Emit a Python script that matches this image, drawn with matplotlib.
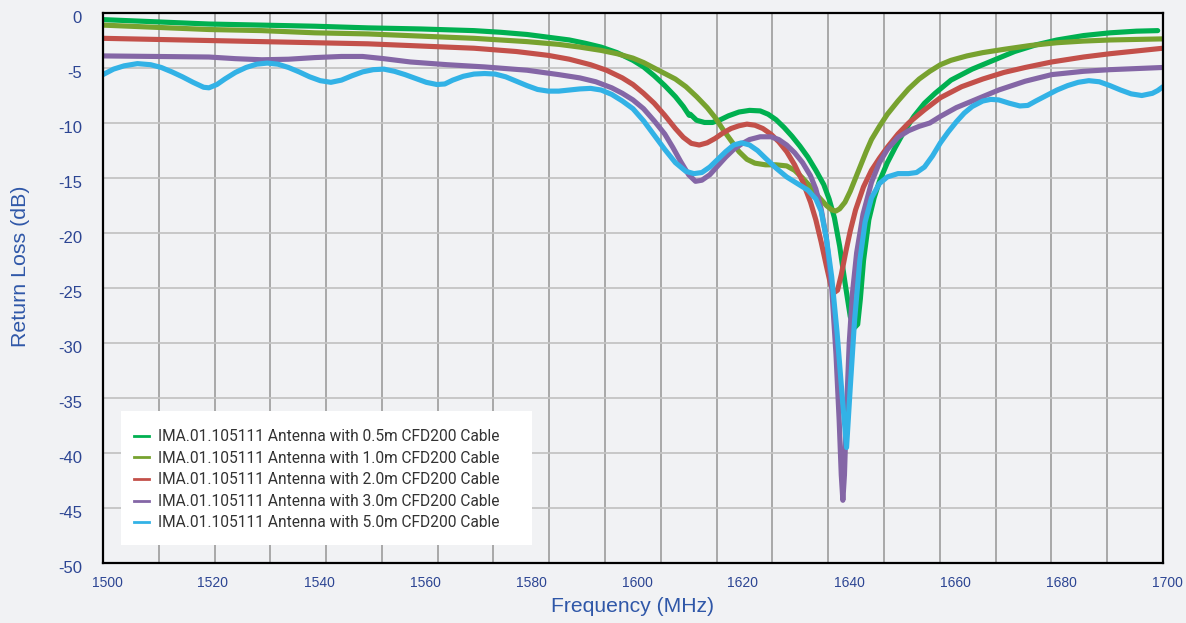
import matplotlib
matplotlib.use("Agg")
import matplotlib.pyplot as plt
import numpy as np
from matplotlib.lines import Line2D
from matplotlib.patches import Rectangle
from matplotlib.transforms import ScaledTranslation

plt.rcParams["axes.unicode_minus"] = False

# 0.5m cable
freq_05 = [1500, 1510, 1520, 1530, 1540, 1550, 1560, 1570, 1575, 1580, 1584, 1588, 1591, 1594,
           1597, 1600, 1602, 1604, 1606, 1608, 1609.5, 1610.6, 1610.8, 1612, 1613.5, 1615, 1616.5,
           1618, 1620, 1622, 1624, 1625.5, 1627, 1628.5, 1630, 1631.5, 1633, 1634.5, 1636, 1637,
           1638, 1639, 1640, 1641, 1641.8, 1642.4, 1642.9, 1643.5, 1644.5, 1645.5, 1646.5, 1648,
           1649.5, 1651, 1653, 1655, 1657, 1660, 1664, 1668, 1672, 1676, 1680, 1685, 1690, 1695, 1699]
rl_05 = [-0.6, -0.8, -1.0, -1.1, -1.2, -1.35, -1.45, -1.6, -1.75, -1.95, -2.2, -2.45, -2.75, -3.1,
         -3.6, -4.3, -4.9, -5.7, -6.6, -7.6, -8.5, -9.3, -9.2, -9.75, -9.95, -9.95, -9.7,
         -9.35, -9.0, -8.85, -8.9, -9.2, -9.7, -10.4, -11.2, -12.1, -13.1, -14.3, -15.6, -16.9,
         -18.6, -21.2, -24.5, -27.6, -28.6, -28.3, -26.0, -22.5, -18.8, -16.8, -15.3, -13.6,
         -12.2, -10.9, -9.4, -8.2, -7.3, -6.1, -5.1, -4.3, -3.5, -2.9, -2.45, -2.05, -1.8, -1.65, -1.6]

# 1.0m cable
freq_10 = [1500, 1510, 1520, 1530, 1540, 1550, 1560, 1570, 1580, 1586, 1590, 1594, 1597, 1600,
           1602, 1604, 1606, 1608, 1610, 1612, 1614, 1615.5, 1617, 1618.5, 1620, 1621.5, 1623, 1625,
           1627, 1629, 1630.5, 1632, 1633.5, 1635, 1636.5, 1637.5, 1638.3, 1639, 1640, 1641, 1642,
           1643, 1644, 1645, 1646.5, 1648, 1650, 1652, 1654, 1656, 1658, 1660, 1663, 1666, 1670,
           1675, 1680, 1685, 1690, 1695, 1700]
rl_10 = [-1.1, -1.3, -1.5, -1.6, -1.8, -1.9, -2.1, -2.3, -2.6, -2.85, -3.1, -3.4, -3.7, -4.1,
         -4.5, -5.0, -5.5, -6.0, -6.7, -7.6, -8.6, -9.5, -10.6, -11.6, -12.6, -13.3, -13.65, -13.8,
         -13.8, -13.9, -14.3, -15.0, -15.8, -16.7, -17.5, -17.9, -18.0, -17.8, -17.2, -16.2, -15.0,
         -13.8, -12.6, -11.5, -10.3, -9.2, -8.0, -6.9, -6.0, -5.3, -4.7, -4.3, -3.9, -3.6, -3.3,
         -2.95, -2.7, -2.55, -2.45, -2.4, -2.35]

# 2.0m cable
freq_20 = [1500, 1510, 1520, 1530, 1540, 1550, 1560, 1570, 1578, 1584, 1588, 1592, 1595, 1598,
           1600, 1602, 1604, 1606, 1608, 1609.5, 1611, 1612.5, 1614, 1615.5, 1617, 1618.5, 1620,
           1621.5, 1623, 1624.5, 1626, 1627.5, 1629, 1630.5, 1632, 1633.5, 1634.5, 1635.5, 1636.5,
           1637.3, 1638, 1638.6, 1639.3, 1640.2, 1641, 1642, 1643.5, 1645, 1646.5, 1648, 1650, 1652,
           1655, 1658, 1662, 1666, 1670, 1674, 1679, 1685, 1690, 1695, 1700]
rl_20 = [-2.3, -2.4, -2.5, -2.6, -2.7, -2.8, -3.0, -3.2, -3.5, -3.85, -4.2, -4.7, -5.2, -5.9,
         -6.5, -7.3, -8.2, -9.3, -10.5, -11.3, -11.85, -12.0, -11.8, -11.4, -10.9, -10.5, -10.25,
         -10.1, -10.2, -10.5, -11.0, -11.7, -12.6, -13.8, -15.3, -17.2, -18.8, -20.8, -23.0,
         -24.7, -25.4, -25.2, -23.8, -21.6, -19.8, -17.9, -15.8, -14.3, -13.2, -12.2, -11.0, -10.0,
         -8.8, -7.7, -6.7, -6.0, -5.4, -4.95, -4.45, -4.0, -3.7, -3.45, -3.2]

# 3.0m cable
freq_30 = [1500, 1510, 1520, 1525, 1530, 1535, 1540, 1545, 1549, 1553, 1558, 1565, 1572, 1580,
           1586, 1590, 1593, 1596, 1598, 1600, 1602, 1604, 1606, 1607.5, 1609, 1610.5, 1611.8, 1613,
           1614.5, 1616, 1617.5, 1619, 1620.5, 1622, 1624, 1626, 1627.5, 1629, 1630.5, 1632, 1633.5,
           1634.5, 1635.5, 1636.5, 1637.5, 1638.3, 1638.9, 1639.3, 1639.6, 1639.9, 1640.3, 1640.8,
           1641.4, 1642.2, 1643.4, 1645, 1646.5, 1648, 1650, 1652, 1654, 1656, 1658, 1661, 1665,
           1669, 1674, 1679, 1685, 1690, 1695, 1700]
rl_30 = [-3.9, -3.95, -4.0, -4.15, -4.25, -4.2, -4.05, -3.95, -3.95, -4.15, -4.45, -4.7, -4.9, -5.2,
         -5.6, -5.9, -6.25, -6.8, -7.3, -7.9, -8.7, -9.8, -11.0, -12.2, -13.5, -14.7, -15.3, -15.2,
         -14.7, -13.9, -13.1, -12.4, -11.9, -11.5, -11.25, -11.25, -11.5, -12.0, -12.7, -13.6, -14.8,
         -16.0, -17.8, -20.5, -25.0, -31.0, -37.0, -42.0, -44.3, -42.0, -36.0, -30.0,
         -25.5, -21.8, -18.3, -15.4, -13.6, -12.4, -11.3, -10.7, -10.3, -10.0, -9.4, -8.6, -7.8,
         -7.0, -6.2, -5.6, -5.3, -5.15, -5.05, -4.95]

# 5.0m cable
freq_50 = [1500, 1502, 1504, 1506.5, 1509, 1511, 1513, 1515, 1517, 1519, 1520, 1521.5, 1523, 1525,
           1527, 1529, 1531, 1533, 1535, 1537, 1539, 1541, 1543, 1545, 1547, 1549, 1551, 1553, 1555,
           1557, 1559, 1561, 1563, 1564.5, 1566, 1568, 1570, 1572, 1574, 1576, 1578, 1580, 1582,
           1584, 1586, 1588, 1590, 1592, 1594, 1596, 1598, 1600, 1602, 1604, 1606, 1608, 1610,
           1611.5, 1613, 1614.5, 1616, 1617.5, 1619, 1620.5, 1622, 1623.5, 1625, 1627, 1629, 1631,
           1633, 1634.5, 1635.5, 1636.5, 1637.5, 1638.5, 1639.5, 1640.3, 1641, 1641.8, 1642.8,
           1643.8, 1645, 1646.5, 1648, 1650, 1652, 1653.5, 1655, 1656.5, 1658, 1659.5, 1661, 1662.5,
           1664, 1666, 1667.5, 1669, 1671, 1673, 1674.5, 1676, 1678, 1680, 1682, 1684, 1686, 1688,
           1690, 1692, 1694, 1696, 1698, 1699, 1700]
rl_50 = [-5.6, -5.1, -4.8, -4.6, -4.7, -4.95, -5.35, -5.8, -6.3, -6.75, -6.8, -6.5, -6.0, -5.4,
         -4.95, -4.65, -4.55, -4.65, -4.95, -5.35, -5.8, -6.15, -6.3, -6.1, -5.7, -5.35, -5.15, -5.1,
         -5.3, -5.6, -5.95, -6.3, -6.5, -6.45, -6.1, -5.75, -5.55, -5.5, -5.55, -5.8, -6.2, -6.6,
         -6.95, -7.1, -7.1, -7.0, -6.9, -6.85, -7.0, -7.4, -8.0, -8.7, -9.8, -11.1, -12.4, -13.6,
         -14.4, -14.6, -14.5, -14.0, -13.3, -12.6, -12.0, -11.8, -12.0, -12.5, -13.2, -14.1, -14.9,
         -15.5, -16.1, -16.9, -18.0, -20.5, -24.0, -29.0, -35.0, -39.5, -34.0, -28.0, -22.5,
         -19.0, -16.8, -15.5, -14.9, -14.6, -14.6, -14.5, -14.0, -13.0, -11.8, -10.8, -9.9, -9.1,
         -8.5, -8.0, -7.85, -7.9, -8.2, -8.45, -8.4, -8.0, -7.5, -7.0, -6.6, -6.3, -6.15, -6.25,
         -6.6, -7.0, -7.35, -7.5, -7.3, -7.05, -6.7]

labels = [
    "IMA.01.105111 Antenna with 0.5m CFD200 Cable",
    "IMA.01.105111 Antenna with 1.0m CFD200 Cable",
    "IMA.01.105111 Antenna with 2.0m CFD200 Cable",
    "IMA.01.105111 Antenna with 3.0m CFD200 Cable",
    "IMA.01.105111 Antenna with 5.0m CFD200 Cable",
]
colors = ["#00b050", "#77a22f", "#c3504a", "#8466a6", "#32b2e6"]
x_ticks = list(range(1500, 1701, 20))
y_ticks = list(range(-50, 1, 5))

bg = "#f1f2f4"
tick_color = "#2c4593"
label_color = "#2f57a8"

fig = plt.figure(figsize=(11.86, 6.23), dpi=100)
fig.patch.set_facecolor(bg)
ax = fig.add_axes([0.0868, 0.0963, 0.8938, 0.8828])
ax.set_facecolor(bg)

series = [(freq_05, rl_05), (freq_10, rl_10), (freq_20, rl_20), (freq_30, rl_30), (freq_50, rl_50)]
for (f, r), c in zip(series, colors):
    ax.plot(f, r, color=c, lw=3.7, solid_joinstyle="round", solid_capstyle="round", zorder=3)

ax.set_xlim(1500, 1700)
ax.set_ylim(-50, 0)
ax.set_xticks(x_ticks)
ax.set_yticks(y_ticks)
# the vertical grid of the original runs in 19 equal steps, not on the labels
ax.set_xticks(np.linspace(1500, 1700, 20), minor=True)
ax.grid(False)
ax.xaxis.grid(True, which="minor", color="#a3a3a3", lw=1.3, zorder=1)
ax.yaxis.grid(True, which="major", color="#c4c4c4", lw=1.3, zorder=1)
ax.tick_params(axis="both", which="both", length=0)
ax.tick_params(axis="y", pad=15, labelsize=12, labelcolor=tick_color)
ax.tick_params(axis="x", pad=9, labelsize=10, labelcolor=tick_color)
for lab in ax.get_yticklabels():
    lab.set_fontfamily("Liberation Sans")
    lab.set_transform(lab.get_transform() + ScaledTranslation(0, -4 / 100, fig.dpi_scale_trans))
for lab in ax.get_xticklabels():
    lab.set_fontfamily("Liberation Sans")
    lab.set_transform(lab.get_transform() + ScaledTranslation(4 / 100, 0, fig.dpi_scale_trans))

for sp in ax.spines.values():
    sp.set_color("black")
    sp.set_linewidth(1.6)
    sp.set_zorder(4)

ax.set_xlabel("Frequency (MHz)", fontsize=15.2, color=label_color, family="Liberation Sans")
ax.set_ylabel("Return Loss (dB)", fontsize=15.4, color=label_color, family="Liberation Sans")
ax.xaxis.set_label_coords(0.5, -0.062)
ax.yaxis.set_label_coords(-0.0688, 0.54)

# legend sits on a plain white box
ax.add_patch(Rectangle((0.017, 0.0327), 0.3877, 0.2436, transform=ax.transAxes,
                       facecolor="white", edgecolor="none", zorder=5))
handles = [Line2D([], [], color=c, lw=2) for c in colors]
leg = ax.legend(handles, labels, loc="upper left", bbox_to_anchor=(0.0292, 0.243),
                borderaxespad=0, borderpad=0, frameon=False,
                prop={"family": "Roboto", "size": 11.2}, handlelength=1.0, handletextpad=0.55,
                labelspacing=0.42)
leg.set_zorder(6)
for t in leg.get_texts():
    t.set_color("#333333")

fig.savefig("out.png", dpi=100, facecolor=bg)
